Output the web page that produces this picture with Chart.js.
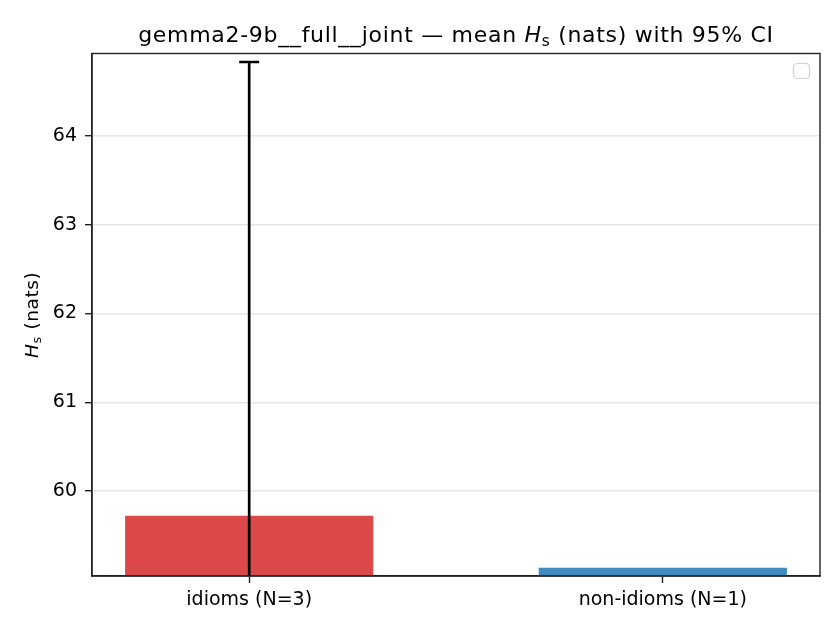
<!DOCTYPE html>
<html>
<head>
<meta charset="utf-8">
<script src="https://cdn.jsdelivr.net/npm/chart.js@4.4.1/dist/chart.umd.min.js"></script>
<style>body{margin:0;background:#fff}</style>
</head>
<body>
<canvas id="hsChart" width="840" height="630"></canvas>
<script>
const categories = ['idioms (N=3)', 'non-idioms (N=1)'];
const meanHs = [59.72, 59.136];
// 95% CI bounds; the lower bound of idioms is below the visible axis
const ciLow = [54.61, null];
const ciHigh = [64.834, null];
const barColors = ['rgba(214,39,40,0.85)', 'rgba(31,119,180,0.85)'];
const yTicks = [60, 61, 62, 63, 64];
const yRange = [59.042, 64.93];
const xRange = [-0.38, 1.38];

const FONT = '"DejaVu Sans", sans-serif';

// draw a run of text pieces (normal / italic / subscript), like mathtext
function drawPieces(ctx, pieces, size, x, y, spacing) {
    ctx.letterSpacing = spacing + 'px';
    const fontFor = p => (p.italic ? 'italic ' : '') + (p.sub ? size * 0.7 : size) + 'px ' + FONT;
    let total = 0;
    pieces.forEach(p => { ctx.font = fontFor(p); total += ctx.measureText(p.text).width; });
    let cx = x - total / 2;
    ctx.textAlign = 'left';
    ctx.textBaseline = 'alphabetic';
    pieces.forEach(p => {
        ctx.font = fontFor(p);
        ctx.fillText(p.text, cx, y + (p.sub ? size * 0.18 : 0));
        cx += ctx.measureText(p.text).width;
    });
    ctx.letterSpacing = '0px';
}

const decorPlugin = {
    id: 'decor',
    afterDatasetsDraw(chart) {
        const {ctx, chartArea: a, scales: {x, y}} = chart;
        // error bars
        ctx.save();
        ctx.beginPath();
        ctx.rect(a.left, a.top, a.right - a.left, a.bottom - a.top);
        ctx.clip();
        ctx.strokeStyle = '#000';
        ctx.lineWidth = 2.7;
        meanHs.forEach((m, i) => {
            if (ciLow[i] == null) return;
            const px = x.getPixelForValue(i);
            const yHi = y.getPixelForValue(ciHigh[i]);
            const yLo = y.getPixelForValue(ciLow[i]);
            ctx.beginPath();
            ctx.moveTo(px, yLo);
            ctx.lineTo(px, yHi);
            ctx.stroke();
            ctx.beginPath();
            ctx.moveTo(px - 10, yHi);
            ctx.lineTo(px + 10, yHi);
            ctx.stroke();
        });
        ctx.restore();

        // frame
        ctx.save();
        ctx.strokeStyle = '#222';
        ctx.lineWidth = 1.4;
        ctx.strokeRect(a.left, a.top, a.right - a.left, a.bottom - a.top);

        // empty legend box
        ctx.strokeStyle = '#d0d0d0';
        ctx.lineWidth = 1.2;
        ctx.beginPath();
        ctx.roundRect(a.right - 26.5, a.top + 10, 16, 15, 4);
        ctx.stroke();
        ctx.restore();
    },
    afterDraw(chart) {
        const {ctx, chartArea: a} = chart;
        ctx.save();
        ctx.fillStyle = '#000';
        drawPieces(ctx, [
            {text: 'gemma2-9b__full__joint \u2014 mean '},
            {text: 'H', italic: true},
            {text: 's', sub: true},
            {text: ' (nats) with 95% CI'}
        ], 22, (a.left + a.right) / 2, 41.7, 0.7);

        ctx.translate(38, (a.top + a.bottom) / 2);
        ctx.rotate(-Math.PI / 2);
        drawPieces(ctx, [
            {text: 'H', italic: true},
            {text: 's', sub: true},
            {text: ' (nats)'}
        ], 18.5, 0, 0, 0.6);
        ctx.restore();
    }
};

new Chart(document.getElementById('hsChart'), {
    type: 'bar',
    data: {
        datasets: [{
            data: meanHs.map((v, i) => ({x: i, y: v})),
            backgroundColor: barColors,
            borderWidth: 0,
            barPercentage: 0.6,
            categoryPercentage: 1
        }]
    },
    options: {
        responsive: false,
        animation: false,
        devicePixelRatio: 1,
        layout: {padding: {top: 53.5, right: 20, left: 0, bottom: 0}},
        plugins: {legend: {display: false}, tooltip: {enabled: false}},
        scales: {
            x: {
                type: 'linear',
                offset: false,
                min: xRange[0],
                max: xRange[1],
                afterBuildTicks: s => { s.ticks = categories.map((c, i) => ({value: i})); },
                afterFit: s => { s.height = 630 - 576; },
                ticks: {
                    callback: v => categories[v],
                    color: '#000',
                    font: {family: FONT, size: 19},
                    padding: 6,
                    maxRotation: 0,
                    autoSkip: false
                },
                grid: {offset: false, drawOnChartArea: false, drawTicks: true, tickLength: 7, tickColor: '#222', tickWidth: 1.4},
                border: {display: true, color: '#222', width: 1.4}
            },
            y: {
                min: yRange[0],
                max: yRange[1],
                afterBuildTicks: s => { s.ticks = yTicks.map(v => ({value: v})); },
                afterFit: s => { s.width = 92; },
                ticks: {
                    color: '#000',
                    font: {family: FONT, size: 19},
                    padding: 8
                },
                grid: {color: '#e6e6e6', lineWidth: 1.4, tickLength: 7, tickColor: '#222', tickWidth: 1.4},
                border: {display: true, color: '#222', width: 1.4}
            }
        }
    },
    plugins: [decorPlugin]
});
</script>
</body>
</html>
